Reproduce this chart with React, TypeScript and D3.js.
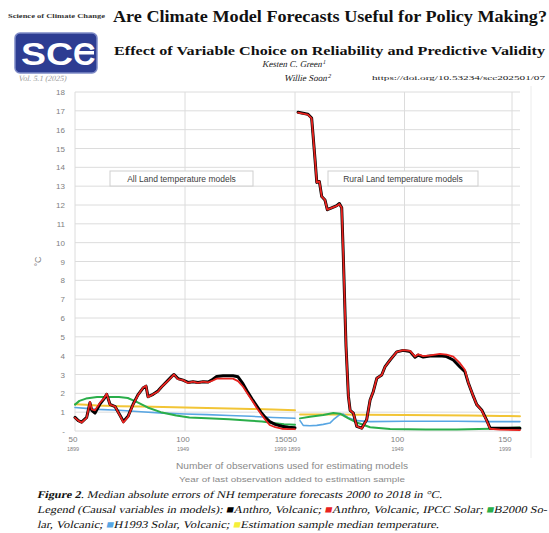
import React from 'react';
import * as d3 from 'd3';

type P = [number, number];

// ---------- data ----------
const yTicks = d3.range(0, 19);
const leftTicks = [
  { n: 50, year: '1899' },
  { n: 100, year: '1949' },
];
const rightTicks = [
  { n: 100, year: '1949' },
  { n: 150, year: '1999' },
];
const joinTick = { left: '150', right: '50', leftYear: '1999', rightYear: '1899' };

const leftRed: P[] = [
  [50, 0.7], [51.5, 0.55], [53, 0.45], [55.3, 0.7], [56.8, 1.55], [57.6, 1.15], [59.1, 1.1], [61.4, 1.5],
  [63, 1.7], [64.4, 1.98], [65.9, 1.4], [68.2, 1.3], [70.5, 0.8], [72, 0.45], [74.1, 0.75], [76.4, 1.4],
  [78.6, 1.9], [80.9, 2.3], [82.3, 2.4], [83.2, 1.8], [85.5, 1.95], [87.7, 2.1], [89.4, 2.35], [91.7, 2.6],
  [94, 2.88], [95, 3.0], [96.8, 2.75], [99.1, 2.7], [101.4, 2.55], [103.6, 2.62], [105.9, 2.55], [108.2, 2.62],
  [110.5, 2.58], [112.7, 2.68], [114.4, 2.78], [117.3, 2.78], [121.8, 2.78], [124.1, 2.65], [126.4, 2.35],
  [128.6, 1.95], [130.5, 1.62], [132.5, 1.25], [134.5, 0.92], [136.5, 0.6], [138.5, 0.32], [141, 0.2],
  [144, 0.12], [147, 0.1], [150, 0.1],
];
const leftBlack: P[] = [
  [50, 0.72], [51.5, 0.55], [53, 0.47], [55.3, 0.72], [56.8, 1.5], [57.6, 1.1], [59.1, 0.95], [61.4, 1.45],
  [63, 1.68], [64.4, 1.95], [65.9, 1.42], [68.2, 1.3], [70.5, 0.82], [72, 0.5], [74.1, 0.78], [76.4, 1.42],
  [78.6, 1.92], [80.9, 2.28], [82.3, 2.38], [83.2, 1.82], [85.5, 1.95], [87.7, 2.12], [89.4, 2.35], [91.7, 2.62],
  [94, 2.9], [95, 3.0], [96.8, 2.78], [99.1, 2.7], [101.4, 2.58], [103.6, 2.62], [105.9, 2.58], [108.2, 2.62],
  [110.5, 2.6], [112.7, 2.75], [114.4, 2.9], [117.3, 2.93], [121.8, 2.93], [124.1, 2.88], [126.4, 2.5],
  [128.6, 2.05], [130.5, 1.7], [132.5, 1.35], [134.5, 1.0], [136.5, 0.72], [138.5, 0.5], [141, 0.35],
  [144, 0.25], [147, 0.2], [150, 0.17],
];
const leftGreen: P[] = [
  [50, 1.4], [52, 1.6], [55, 1.72], [60, 1.8], [65, 1.8], [70, 1.8], [74, 1.75], [78, 1.55], [83, 1.25],
  [89, 1.0], [96, 0.82], [102, 0.72], [110, 0.68], [120, 0.62], [130, 0.55], [135, 0.5], [140, 0.42],
  [145, 0.36], [150, 0.33],
];
const leftBlue: P[] = [
  [50, 1.25], [55, 1.2], [60, 1.15], [70, 1.1], [80, 1.02], [90, 0.95], [100, 0.9], [110, 0.87],
  [120, 0.82], [130, 0.78], [140, 0.72], [150, 0.68],
];
const leftYellow: P[] = [
  [50, 1.42], [55, 1.4], [60, 1.36], [70, 1.32], [80, 1.3], [90, 1.28], [100, 1.25], [110, 1.22],
  [120, 1.2], [130, 1.17], [140, 1.14], [150, 1.1],
];

const rightRed: P[] = [
  [50.5, 16.9], [55.1, 16.8], [56.8, 16.6], [57.4, 15.8], [58.4, 14.4], [59.2, 13.2], [60.4, 13.25],
  [61.5, 12.45], [63, 12.27], [64.1, 11.75], [66.1, 11.85], [68.5, 11.95], [69.7, 12.05], [70.8, 11.85],
  [71.5, 9.45], [72.8, 4.5], [73.9, 1.85], [74.7, 1.1], [76.2, 0.95], [77.8, 0.25], [80.1, 0.13],
  [82.4, 0.58], [84, 1.65], [85.5, 2.1], [87.1, 2.8], [89.4, 2.97], [90.9, 3.4], [93.3, 3.77], [96.4, 4.2],
  [99.4, 4.3], [102.6, 4.25], [104.9, 3.95], [106.4, 4.07], [108.7, 3.98], [111.9, 4.02], [116.5, 4.1],
  [119.6, 4.05], [122.7, 3.95], [125.8, 3.6], [128.1, 3.25], [129.7, 2.55], [132, 1.85], [133.6, 1.4],
  [135.9, 1.1], [138.2, 0.55], [139.8, 0.12], [144.4, 0.07], [153.7, 0.05],
];
const rightBlack: P[] = [
  [50.5, 16.92], [55.1, 16.82], [56.8, 16.62], [57.4, 15.8], [58.4, 14.4], [59.2, 13.2], [60.4, 13.25],
  [61.5, 12.45], [63, 12.27], [64.1, 11.75], [66.1, 11.85], [68.5, 11.97], [69.7, 12.08], [70.8, 11.85],
  [71.5, 9.45], [72.8, 4.5], [73.9, 1.85], [74.7, 1.1], [76.2, 0.95], [77.8, 0.25], [80.1, 0.15],
  [82.4, 0.6], [84, 1.65], [85.5, 2.1], [87.1, 2.8], [89.4, 2.97], [90.9, 3.4], [93.3, 3.77], [96.4, 4.2],
  [99.4, 4.28], [102.6, 4.22], [104.9, 3.92], [106.4, 4.03], [108.7, 3.93], [111.9, 3.98], [116.5, 4.0],
  [119.6, 3.95], [122.7, 3.77], [125.8, 3.4], [128.1, 3.15], [129.7, 2.55], [132, 1.85], [133.6, 1.4],
  [135.9, 1.12], [138.2, 0.58], [139.8, 0.15], [144.4, 0.14], [153.7, 0.14],
];
const rightGreen: P[] = [
  [51.4, 0.67], [56, 0.76], [62.2, 0.85], [66.9, 0.95], [70, 0.92], [73.9, 0.67], [77.8, 0.45],
  [84, 0.2], [93.3, 0.1], [110, 0.08], [124.3, 0.08], [139.8, 0.12], [153.7, 0.18],
];
const rightBlue: P[] = [
  [51.4, 0.55], [52.9, 0.3], [56, 0.28], [59.2, 0.3], [62.2, 0.35], [65.3, 0.42], [66.9, 0.6],
  [70, 0.88], [71.5, 0.9], [73.9, 0.7], [77.8, 0.55], [84, 0.5], [100, 0.52], [124.3, 0.52],
  [139.8, 0.5], [153.7, 0.5],
];
const rightYellow: P[] = [
  [51.4, 0.88], [65, 0.88], [80, 0.86], [100, 0.85], [115, 0.84], [130, 0.82], [145, 0.8], [153.7, 0.78],
];

const seriesColors = {
  black: '#000000',
  red: '#e8231f',
  green: '#2aae4a',
  blue: '#58a6e3',
  yellow: '#f2c536',
};

const legendItems = [
  { color: seriesColors.black, label: 'Anthro, Volcanic; ' },
  { color: seriesColors.red, label: 'Anthro, Volcanic, IPCC Solar; ' },
  { color: seriesColors.green, label: 'B2000 So-' },
];
const legendItems2 = [
  { color: seriesColors.blue, label: 'H1993 Solar, Volcanic; ' },
  { color: '#f5ef3a', label: 'Estimation sample median temperature.' },
];

// ---------- layout ----------
const W = 549;
const H = 533;
const plotLeft = 75;
const plotRight = 520;
const y = d3.scaleLinear().domain([0, 18]).range([431, 92]);
const xL = d3.scaleLinear().domain([50, 150]).range([75, 295]);
const xR = d3.scaleLinear().domain([50, 150]).range([297, 512]);

const lineL = d3.line<P>().x((d) => xL(d[0])).y((d) => y(d[1])).curve(d3.curveLinear);
const lineR = d3.line<P>().x((d) => xR(d[0])).y((d) => y(d[1])).curve(d3.curveLinear);

const sans = "'Liberation Sans', Arial, sans-serif";
const serif = "'Liberation Serif', 'Times New Roman', serif";
const tickColor = '#808080';
const ital = (x: number, yy: number) => `translate(${x},${yy}) skewX(-13)`;

export default function App() {
  const vGrid = [xL(50), xL(100), xL(150), xR(100), xR(150)];
  const layers: { l: P[]; r: P[]; color: string; w: number }[] = [
    { l: leftYellow, r: rightYellow, color: seriesColors.yellow, w: 2 },
    { l: leftBlue, r: rightBlue, color: seriesColors.blue, w: 1.6 },
    { l: leftGreen, r: rightGreen, color: seriesColors.green, w: 2 },
    { l: leftBlack, r: rightBlack, color: seriesColors.black, w: 3 },
    { l: leftRed, r: rightRed, color: seriesColors.red, w: 1.8 },
  ];
  return (
    <svg width={W} height={H} style={{ position: 'absolute', left: 0, top: 0, background: '#fff' }}>
      <rect x={0} y={0} width={W} height={H} fill="#fff" />
      {/* header */}
      <text x={8} y={18} fontFamily={serif} fontSize={5.5} fontWeight="bold" fill="#333" textLength={97} lengthAdjust="spacingAndGlyphs">
        Science of Climate Change
      </text>
      <text x={113} y={22} fontFamily={serif} fontSize={17} fontWeight="bold" fill="#111" textLength={434} lengthAdjust="spacingAndGlyphs">
        Are Climate Model Forecasts Useful for Policy Making?
      </text>
      <rect x={15} y={33} width={82} height={40} rx={5} fill="#2d3d92" stroke="#7e8ac6" strokeWidth={1.5} />
      <text x={21} y={65} fontFamily={sans} fontSize={31} fontWeight="bold" fill="#fff" textLength={52} lengthAdjust="spacingAndGlyphs">
        SC
      </text>
      <text x={73} y={65} fontFamily={sans} fontSize={31} fontWeight="bold" fill="#fff">
        C
      </text>
      <rect x={78} y={51} width={16} height={3.5} fill="#fff" />
      <text x={114} y={55} fontFamily={serif} fontSize={13.5} fontWeight="bold" fill="#111" textLength={431} lengthAdjust="spacingAndGlyphs">
        Effect of Variable Choice on Reliability and Predictive Validity
      </text>
      <text transform={ital(262, 67)} fontFamily={serif} fontSize={9} fill="#222">
        Kesten C. Green<tspan fontSize={6} dy={-3.5}>1</tspan>
      </text>
      <text transform={ital(284, 81)} fontFamily={serif} fontSize={9} fill="#222">
        Willie Soon<tspan fontSize={6} dy={-3.5}>2</tspan>
      </text>
      <text transform={ital(18, 81)} fontFamily={serif} fontSize={8} fill="#9a9a9a">
        Vol. 5.1 (2025)
      </text>
      <text x={372} y={80} fontFamily={serif} fontSize={7} fill="#222" textLength={173} lengthAdjust="spacingAndGlyphs">
        https://doi.org/10.53234/scc202501/07
      </text>

      {/* plot frame line */}
      <line x1={531} x2={531} y1={86} y2={458} stroke="#ececec" strokeWidth={1} />

      {/* gridlines */}
      {yTicks.map((t) => (
        <line key={'h' + t} x1={plotLeft} x2={plotRight} y1={y(t)} y2={y(t)} stroke="#dcdcdc" strokeWidth={1} />
      ))}
      {vGrid.map((gx, i) => (
        <line key={'v' + i} x1={gx} x2={gx} y1={y(18)} y2={y(0)} stroke="#dcdcdc" strokeWidth={1} />
      ))}

      {/* y ticks */}
      {yTicks.map((t) => (
        <text key={'yt' + t} x={65} y={y(t) + 3} textAnchor="end" fontFamily={sans} fontSize={8} fill={tickColor}>
          {t === 0 ? '-' : t}
        </text>
      ))}
      <text transform={`translate(41,${y(9)}) rotate(-90)`} textAnchor="middle" fontFamily={sans} fontSize={9} fill={tickColor}>
        °C
      </text>

      {/* x ticks */}
      {leftTicks.map((t) => (
        <g key={'xl' + t.n}>
          <text x={xL(t.n) - 2} y={442} textAnchor="middle" fontFamily={sans} fontSize={8} fill={tickColor}>{t.n}</text>
          <text x={xL(t.n) - 2} y={451} textAnchor="middle" fontFamily={sans} fontSize={5.5} fill={tickColor}>{t.year}</text>
        </g>
      ))}
      <text x={288} y={442} textAnchor="end" fontFamily={sans} fontSize={8} fill={tickColor}>{joinTick.left}</text>
      <text x={288} y={442} textAnchor="start" fontFamily={sans} fontSize={8} fill={tickColor}>{joinTick.right}</text>
      <text x={286.5} y={451} textAnchor="end" fontFamily={sans} fontSize={5.5} fill={tickColor}>{joinTick.leftYear}</text>
      <text x={288} y={451} textAnchor="start" fontFamily={sans} fontSize={5.5} fill={tickColor}>{joinTick.rightYear}</text>
      {rightTicks.map((t) => (
        <g key={'xr' + t.n}>
          <text x={xR(t.n) - 7} y={442} textAnchor="middle" fontFamily={sans} fontSize={8} fill={tickColor}>{t.n}</text>
          <text x={xR(t.n) - 7} y={451} textAnchor="middle" fontFamily={sans} fontSize={5.5} fill={tickColor}>{t.year}</text>
        </g>
      ))}

      {/* series */}
      {layers.map((s, i) => (
        <g key={'s' + i}>
          <path d={lineL(s.l) || ''} fill="none" stroke={s.color} strokeWidth={s.w} strokeLinejoin="round" strokeLinecap="round" />
          <path d={lineR(s.r) || ''} fill="none" stroke={s.color} strokeWidth={s.w} strokeLinejoin="round" strokeLinecap="round" />
        </g>
      ))}

      {/* panel labels */}
      <rect x={110} y={171} width={143} height={15} fill="#fff" stroke="#cfcfcf" strokeWidth={1} />
      <text x={181.5} y={182} textAnchor="middle" fontFamily={sans} fontSize={8.5} fill="#404040">
        All Land temperature models
      </text>
      <rect x={328} y={171} width={150} height={15} fill="#fff" stroke="#cfcfcf" strokeWidth={1} />
      <text x={403} y={182} textAnchor="middle" fontFamily={sans} fontSize={8.5} fill="#404040">
        Rural Land temperature models
      </text>

      {/* axis titles */}
      <text x={292} y={469} textAnchor="middle" fontFamily={sans} fontSize={9} fill="#8a8a8a" textLength={232} lengthAdjust="spacingAndGlyphs">
        Number of observations used for estimating models
      </text>
      <text x={292} y={482} textAnchor="middle" fontFamily={sans} fontSize={8} fill="#8a8a8a" textLength={226} lengthAdjust="spacingAndGlyphs">
        Year of last observation added to estimation sample
      </text>

      {/* caption */}
      <text transform={ital(37, 498)} fontFamily={serif} fontSize={10.5} fill="#111" textLength={405} lengthAdjust="spacingAndGlyphs">
        <tspan fontWeight="bold">Figure 2</tspan>. Median absolute errors of NH temperature forecasts 2000 to 2018 in °C.
      </text>
      <text transform={ital(37, 513)} fontFamily={serif} fontSize={10.5} fill="#111" textLength={510} lengthAdjust="spacingAndGlyphs">
        Legend (Causal variables in models):{' '}
        {legendItems.map((it, i) => (
          <React.Fragment key={'lg' + i}>
            <tspan fill={it.color}>■</tspan>
            <tspan>{it.label}</tspan>
          </React.Fragment>
        ))}
      </text>
      <text transform={ital(37, 528)} fontFamily={serif} fontSize={10.5} fill="#111" textLength={402} lengthAdjust="spacingAndGlyphs">
        lar, Volcanic;{' '}
        {legendItems2.map((it, i) => (
          <React.Fragment key={'lg2' + i}>
            <tspan fill={it.color}>■</tspan>
            <tspan>{it.label}</tspan>
          </React.Fragment>
        ))}
      </text>
    </svg>
  );
}
